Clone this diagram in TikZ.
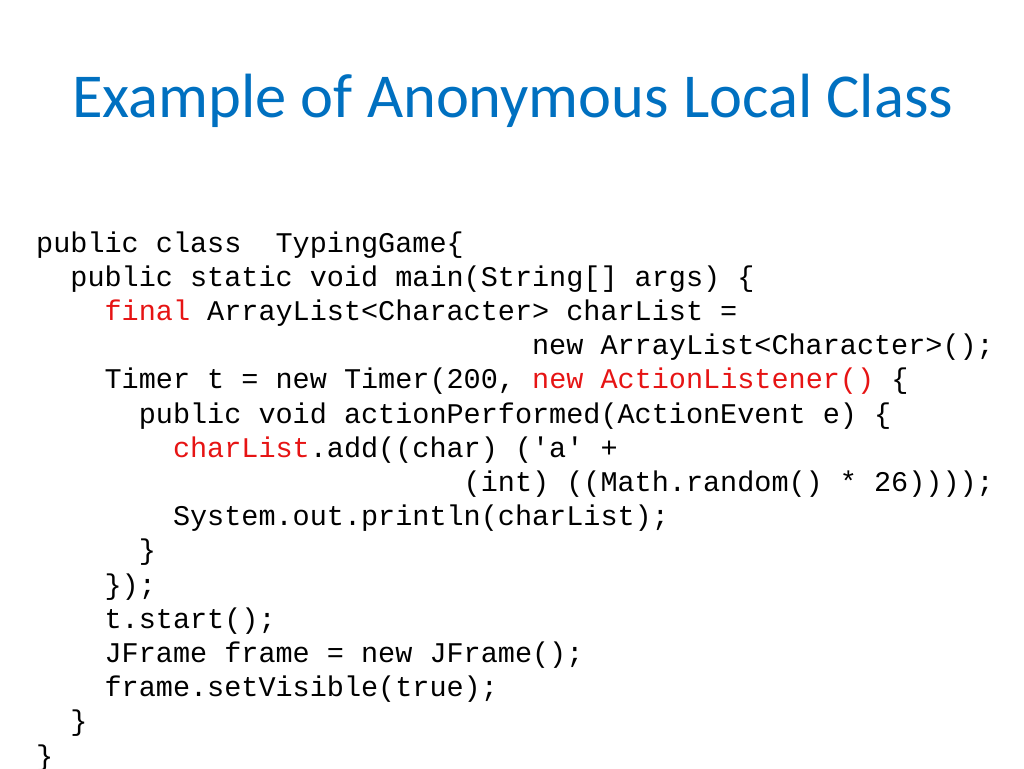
\documentclass[tikz,border=0pt]{standalone}
\usepackage{fontspec}
\setmainfont{Carlito}
\setmonofont{Liberation Mono}
\definecolor{titleblue}{RGB}{0,112,192}
\definecolor{codered}{RGB}{230,20,20}
\begin{document}
\begin{tikzpicture}[x=1pt,y=1pt,
  code/.style={anchor=base west,inner sep=0pt,font=\fontsize{28.5}{30}\ttfamily}]
\useasboundingbox (0,0) rectangle (1024,-768);
\node[anchor=base west,inner sep=0pt,text=titleblue,font=\fontsize{62.5}{68}\selectfont] (title) at (72,-117) {Example of Anonymous Local Class};
\def\cw{17.1}
\def\lh{34.2}
\node[code] (l1) at (36,-252) {public class~~TypingGame\{};
\node[code] (l2) at (36+2*\cw,-252-1*\lh) {public static void main(String[] args) \{};
\node[code] (l3) at (36+4*\cw,-252-2*\lh) {\textcolor{codered}{final} ArrayList<Character> charList =};
\node[code] (l4) at (36+29*\cw,-252-3*\lh) {new ArrayList<Character>();};
\node[code] (l5) at (36+4*\cw,-252-4*\lh) {Timer t = new Timer(200, \textcolor{codered}{new ActionListener()} \{};
\node[code] (l6) at (36+6*\cw,-252-5*\lh) {public void actionPerformed(ActionEvent e) \{};
\node[code] (l7) at (36+8*\cw,-252-6*\lh) {\textcolor{codered}{charList}.add((char) ('a' +};
\node[code] (l8) at (36+25*\cw,-252-7*\lh) {(int) ((Math.random() * 26))));};
\node[code] (l9) at (36+8*\cw,-252-8*\lh) {System.out.println(charList);};
\node[code] (l10) at (36+6*\cw,-252-9*\lh) {\}};
\node[code] (l11) at (36+4*\cw,-252-10*\lh) {\});};
\node[code] (l12) at (36+4*\cw,-252-11*\lh) {t.start();};
\node[code] (l13) at (36+4*\cw,-252-12*\lh) {JFrame frame = new JFrame();};
\node[code] (l14) at (36+4*\cw,-252-13*\lh) {frame.setVisible(true);};
\node[code] (l15) at (36+2*\cw,-252-14*\lh) {\}};
\node[code] (l16) at (36,-252-15*\lh) {\}};
\end{tikzpicture}
\end{document}
